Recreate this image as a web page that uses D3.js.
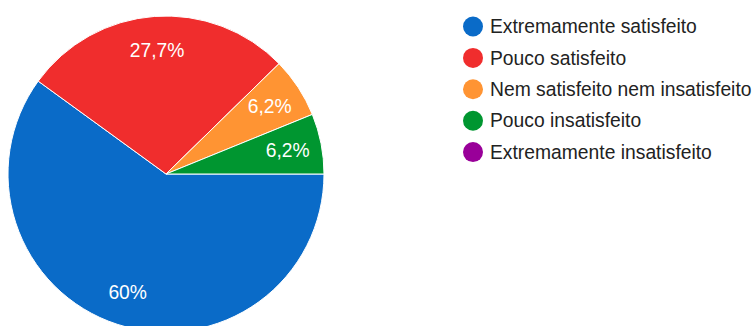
<!DOCTYPE html>
<html>
<head>
<meta charset="utf-8">
<script src="https://cdn.jsdelivr.net/npm/d3@7/dist/d3.min.js"></script>
<style>
  html, body { margin: 0; padding: 0; background: #fff; }
  svg { display: block; font-family: "Liberation Sans", Arial, sans-serif; }
</style>
</head>
<body>
<svg id="chart" width="753" height="326"></svg>
<script>
// Responses per answer option
const categories = [
  "Extremamente satisfeito",
  "Pouco satisfeito",
  "Nem satisfeito nem insatisfeito",
  "Pouco insatisfeito",
  "Extremamente insatisfeito"
];
const counts = [39, 18, 4, 4, 0];
const colors = ["#0a6bc8", "#f02d2d", "#ff9433", "#009630", "#990099"];

const width = 753, height = 326;
const cx = 166, cy = 174, radius = 158;
const labelRadius = radius * 0.785;

const svg = d3.select("#chart");
const total = d3.sum(counts);
const data = categories.map((c, i) => ({ name: c, value: counts[i], color: colors[i] }));

const color = d3.scaleOrdinal().domain(categories).range(colors);

// Slices run clockwise from three o'clock
const pie = d3.pie()
  .value(d => d.value)
  .sort(null)
  .startAngle(Math.PI / 2)
  .endAngle(Math.PI / 2 + 2 * Math.PI);

const arcs = pie(data);
const arc = d3.arc().innerRadius(0).outerRadius(radius);
const labelArc = d3.arc().innerRadius(labelRadius).outerRadius(labelRadius);

const g = svg.append("g").attr("transform", `translate(${cx},${cy})`);

g.selectAll("path.slice")
  .data(arcs.filter(a => a.data.value > 0))
  .join("path")
  .attr("class", "slice")
  .attr("d", arc)
  .attr("fill", d => color(d.data.name))
  .attr("stroke", "#fff")
  .attr("stroke-width", 1);

// Percentage labels, Portuguese decimal comma
const fmtPct = v => {
  const p = Math.round(v / total * 1000) / 10;
  return (Number.isInteger(p) ? String(p) : p.toFixed(1).replace(".", ",")) + "%";
};

g.selectAll("text.pct")
  .data(arcs.filter(a => a.data.value > 0))
  .join("text")
  .attr("class", "pct")
  .attr("transform", d => `translate(${labelArc.centroid(d)})`)
  .attr("text-anchor", "middle")
  .attr("dy", "0.35em")
  .attr("fill", "#fff")
  .style("font-size", "19.3px")
  .text(d => fmtPct(d.data.value));

// Legend
const legendX = 473, legendY = 26.5, rowGap = 31.4;
const legend = svg.append("g");
const rows = legend.selectAll("g.row")
  .data(data)
  .join("g")
  .attr("class", "row")
  .attr("transform", (d, i) => `translate(${legendX},${legendY + i * rowGap})`);

rows.append("circle")
  .attr("r", 10)
  .attr("fill", d => color(d.name));

rows.append("text")
  .attr("x", 17)
  .attr("dy", "0.35em")
  .attr("fill", "#222")
  .style("font-size", "19.3px")
  .text(d => d.name);
</script>
</body>
</html>
